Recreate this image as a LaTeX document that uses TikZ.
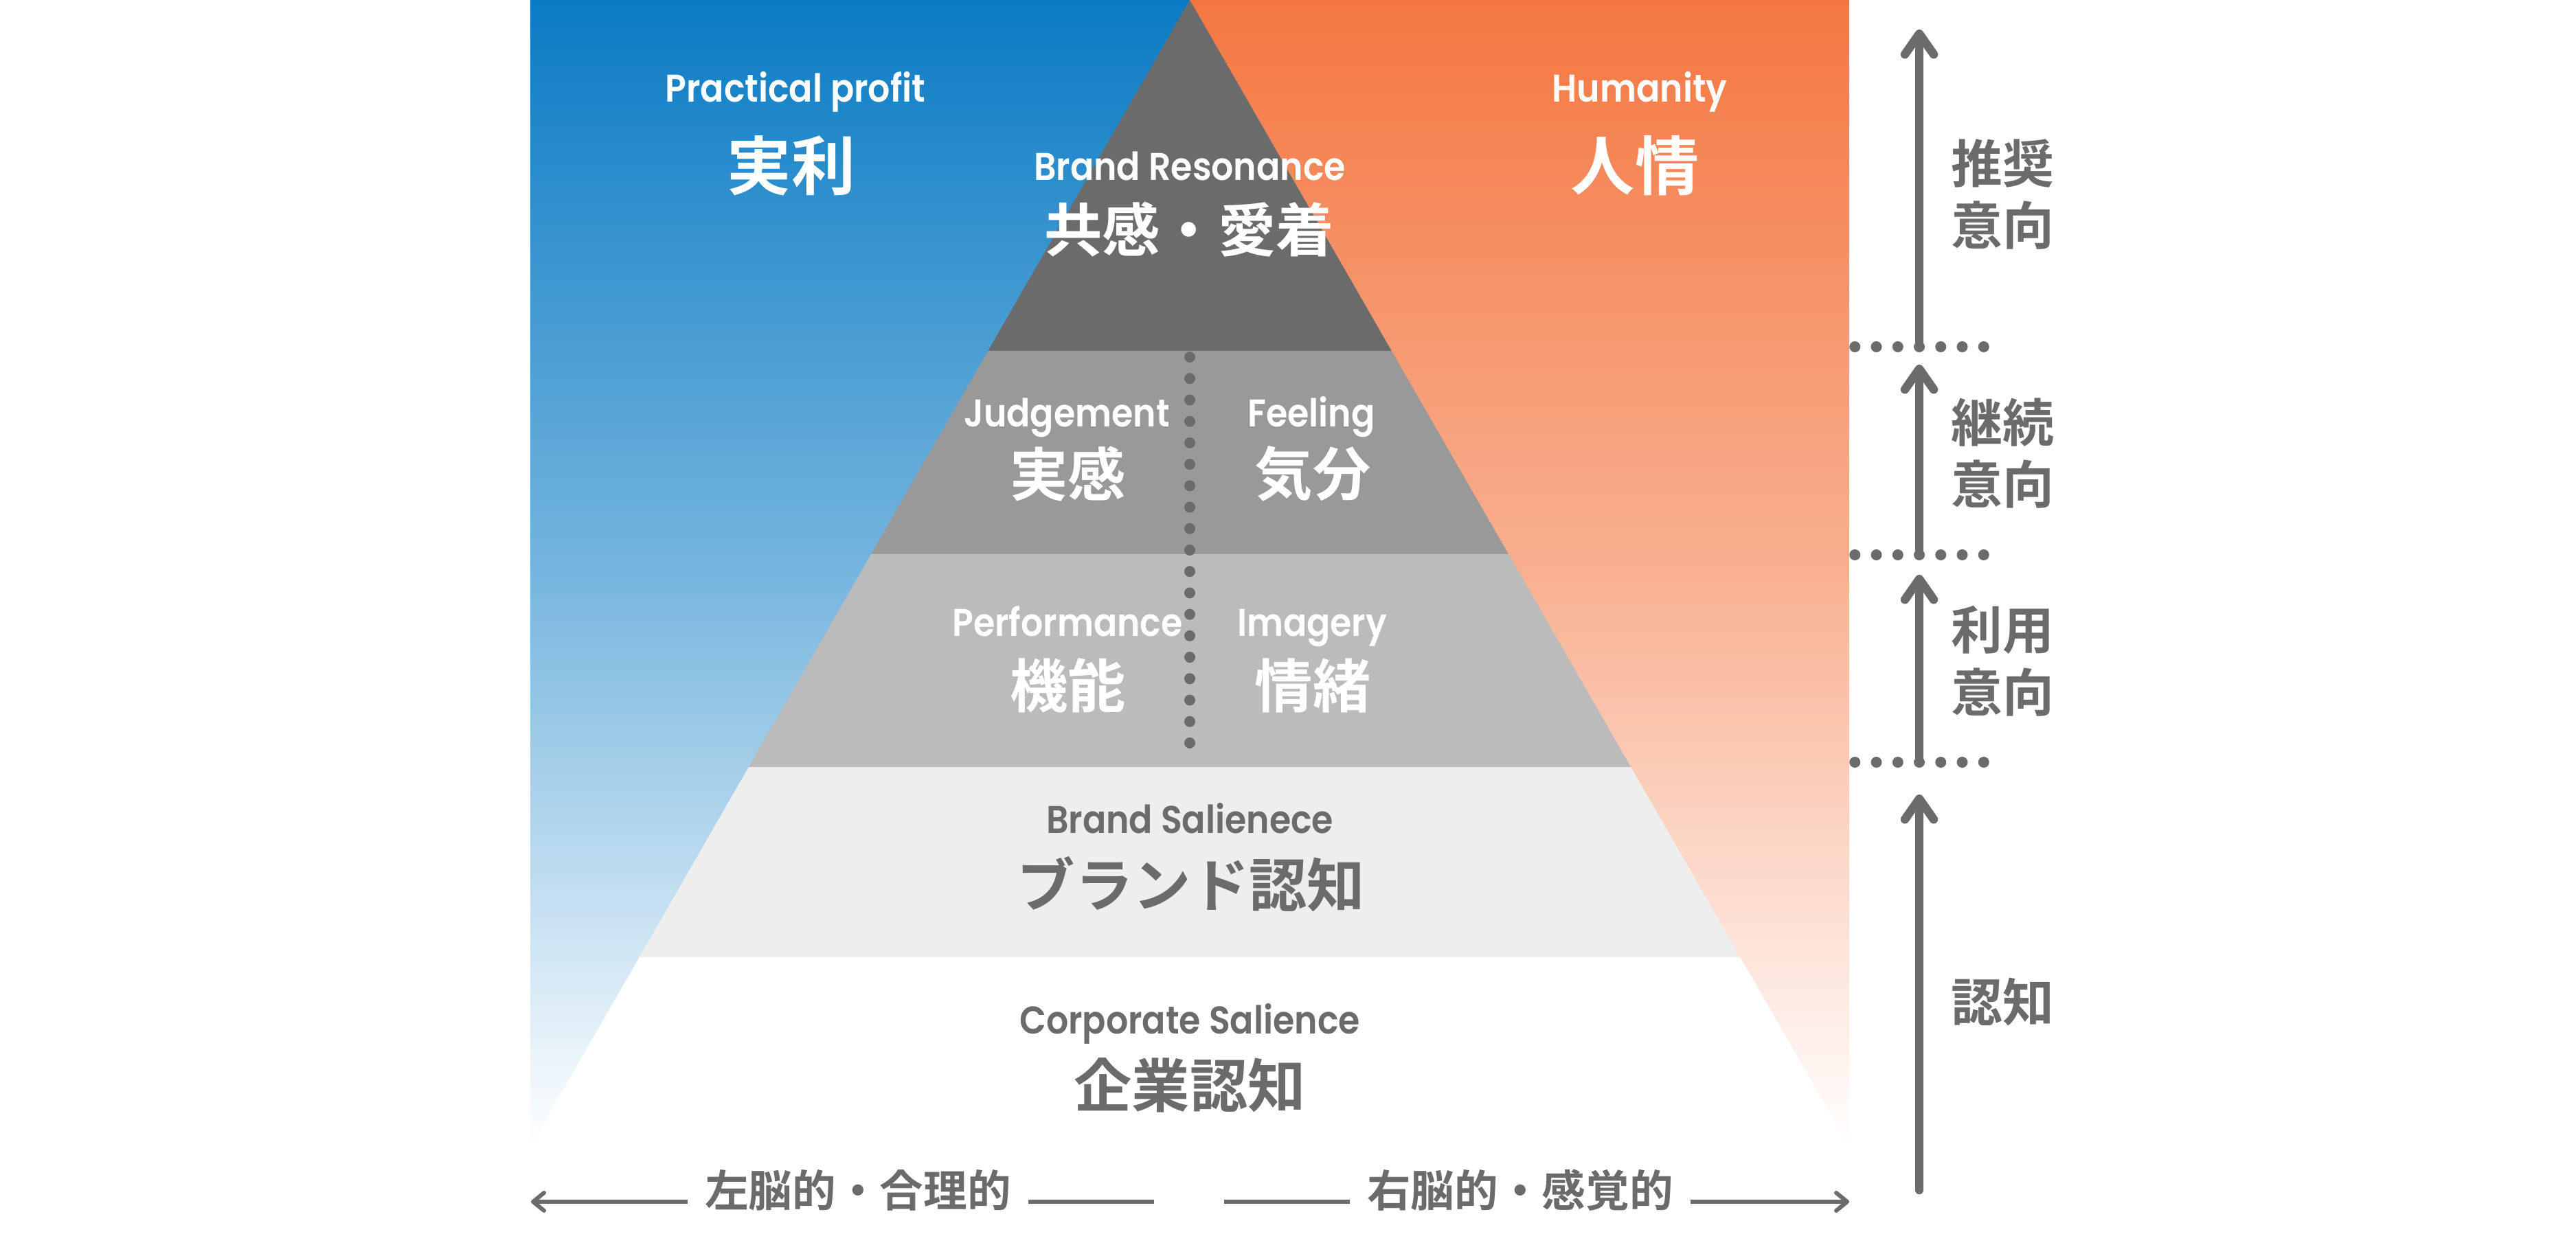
\documentclass[tikz,border=0pt]{standalone}
\usepackage{fontspec}
\usepackage{xcolor}
\usepackage{tikz}
\usetikzlibrary{positioning,calc,arrows.meta}
\newfontfamily\jpfont{Noto Sans CJK JP Bold}
\newfontfamily\enfont{Poppins SemiBold}[FakeStretch=0.9]
\definecolor{pblue}{HTML}{0A7BC4}
\definecolor{porange}{HTML}{F47741}
\definecolor{tierA}{HTML}{6B6B6B}
\definecolor{tierB}{HTML}{999999}
\definecolor{tierC}{HTML}{BBBBBB}
\definecolor{tierD}{HTML}{EEEEEE}
\definecolor{pgrey}{HTML}{6B6B6B}

\begin{document}
\begin{tikzpicture}[
  en/.style={font=\enfont\fontsize{16}{19}\selectfont, text=white, anchor=base, inner sep=0pt},
  jp/.style={font=\jpfont\fontsize{24}{28}\selectfont, text=white, inner sep=0pt},
  jpbig/.style={font=\jpfont\fontsize{26.5}{30}\selectfont, text=white, inner sep=0pt},
  side/.style={font=\jpfont\fontsize{21.3}{25.8}\selectfont, text=pgrey, align=center, inner sep=0pt},
  axtxt/.style={font=\jpfont\fontsize{18.1}{22}\selectfont, text=pgrey, inner xsep=0.25cm, inner ysep=0pt},
  uparr/.style={-{Straight Barb[length=0.3cm, width=0.42cm, round]}, line width=0.125cm, line cap=round, draw=pgrey},
  axarr/.style={-{Straight Barb[length=0.16cm, width=0.26cm, round]}, line width=0.06cm, draw=pgrey},
  axline/.style={line width=0.06cm, draw=pgrey}]
  \useasboundingbox (0,0) rectangle (37.5,18.13);
  % --- background panels
  \coordinate (apex) at (17.32,18.13);
  \coordinate (bl) at (7.72,1.43);
  \coordinate (br) at (26.92,1.43);
  \shade[top color=pblue, bottom color=white, middle color=pblue!56!white] (bl) rectangle (apex);
  \shade[top color=porange, bottom color=white, middle color=porange!58!white] (apex) rectangle (br);
  % --- pyramid tiers
  \foreach \a/\b/\c in {0/0.306/tierA, 0.306/0.4832/tierB, 0.4832/0.6689/tierC, 0.6689/0.8347/tierD, 0.8347/1/white}
    \fill[\c] ($(apex)!\a!(bl)$) -- ($(apex)!\b!(bl)$) -- ($(apex)!\b!(br)$) -- ($(apex)!\a!(br)$) -- cycle;
  \foreach \i in {0,...,18}
    \fill[pgrey] (17.32,12.93-\i*0.3122) circle (0.08);
  % --- labels
  \node[en] (prac) at (11.58,16.64) {Practical profit};
  \node[jpbig] (jitsuri) at (11.52,15.72) {実利};
  \node[en] (human) at (23.87,16.64) {Humanity};
  \node[jpbig] (ninjo) at (23.80,15.72) {人情};
  \node[en] (reso) at (17.32,15.505) {Brand Resonance};
  \node[jp] (kyokan) at (17.31,14.785) {共感・愛着};
  \node[en] (judge) at (15.53,11.91) {Judgement};
  \node[jp] (jikkan) at (15.545,11.23) {実感};
  \node[en] (feel) at (19.09,11.91) {Feeling};
  \node[jp] (kibun) at (19.11,11.23) {気分};
  \node[en] (perf) at (15.54,8.86) {Performance};
  \node[jp] (kino) at (15.545,8.15) {機能};
  \node[en] (imag) at (19.10,8.86) {Imagery};
  \node[jp] (jocho) at (19.11,8.15) {情緒};
  \node[en, text=pgrey] (bsal) at (17.32,5.994) {Brand Salienece};
  \node[jp, text=pgrey] (bninchi) at (17.34,5.255) {ブランド認知};
  \node[en, text=pgrey] (csal) at (17.32,3.07) {Corporate Salience};
  \node[jp, text=pgrey] (kninchi) at (17.32,2.33) {企業認知};
  % --- stages on the right
  \coordinate (d1) at (27.94,13.08);
  \coordinate (d2) at (27.94,10.05);
  \coordinate (d3) at (27.94,7.03);
  \coordinate (d4) at (27.94,0.80);
  \coordinate (t1) at (27.94,17.70);
  \coordinate (t2) at (27.94,12.82);
  \coordinate (t3) at (27.94,9.76);
  \coordinate (t4) at (27.94,6.56);
  \foreach \d in {d1,d2,d3}
    \foreach \k in {-3,...,3}
      \fill[pgrey] ($(\d)+(\k*0.3125,0)$) circle (0.08);
  \draw[uparr] (d1) -- (t1);
  \draw[uparr] (d2) -- (t2);
  \draw[uparr] (d3) -- (t3);
  \draw[uparr] (d4) -- (t4);
  \node[side] (suisho) at (29.15,15.30) {推奨\\意向};
  \node[side] (keizoku) at (29.15,11.53) {継続\\意向};
  \node[side] (riyo) at (29.15,8.50) {利用\\意向};
  \node[side] (ninchi) at (29.15,3.54) {認知};
  % --- bottom axis
  \node[axtxt] (lbrain) at (12.49,0.795) {左脳的・合理的};
  \node[axtxt] (rbrain) at (22.13,0.795) {右脳的・感覚的};
  \coordinate (axl) at (7.73,0.63);
  \coordinate (axm1) at (16.80,0.63);
  \coordinate (axm2) at (17.82,0.63);
  \coordinate (axr) at (26.92,0.63);
  \draw[axarr] (lbrain.west |- axl) -- (axl);
  \draw[axline] (lbrain.east |- axl) -- (axm1);
  \draw[axline] (axm2) -- (rbrain.west |- axl);
  \draw[axarr] (rbrain.east |- axl) -- (axr);
\end{tikzpicture}
\end{document}
